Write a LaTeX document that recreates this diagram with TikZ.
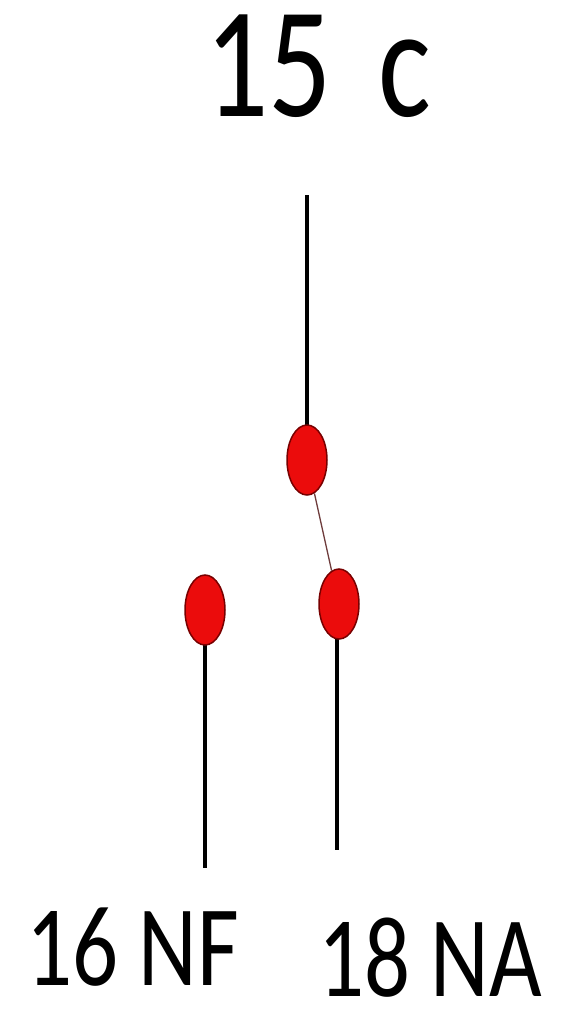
\documentclass[tikz,border=0pt]{standalone}
\usepackage{fontspec}
\usepackage{graphicx}
\setmainfont{Carlito}
\usetikzlibrary{shapes.geometric}
\definecolor{dotred}{RGB}{235,12,12}
\definecolor{dotedge}{RGB}{120,0,0}
\definecolor{linkcol}{RGB}{110,60,60}
\newcommand{\narrowtxt}[1]{\scalebox{0.79}[1]{#1}}
\begin{document}
\begin{tikzpicture}[x=1pt,y=-1pt,
  dot/.style={ellipse,fill=dotred,draw=dotedge,line width=1.5pt,minimum width=40pt,minimum height=70pt,inner sep=0pt},
  wire/.style={line width=4.5pt,black},
  link/.style={line width=1.3pt,linkcol},
  lbl/.style={anchor=base west,inner sep=2pt,font=\fontsize{115}{120}\selectfont}]
\useasboundingbox (0,0) rectangle (566,1009);
\node[lbl,font=\fontsize{158}{160}\selectfont] (t15) at (203,116) {\narrowtxt{15\hspace{23pt} c}};
\node[lbl] (t16) at (24,985) {\narrowtxt{16 NF}};
\node[lbl] (t18) at (316,996) {\narrowtxt{18 NA}};
\coordinate (topend) at (307,195);
\coordinate (lend) at (205,868);
\coordinate (rend) at (337,850);
\draw[wire] (topend) -- (307,440);
\draw[wire] (205,620) -- (lend);
\draw[wire] (337,620) -- (rend);
\node[dot] (top) at (307,460) {};
\node[dot] (lf) at (205,610) {};
\node[dot] (rb) at (339,604) {};
\draw[link] (top) -- (rb);
\end{tikzpicture}
\end{document}
